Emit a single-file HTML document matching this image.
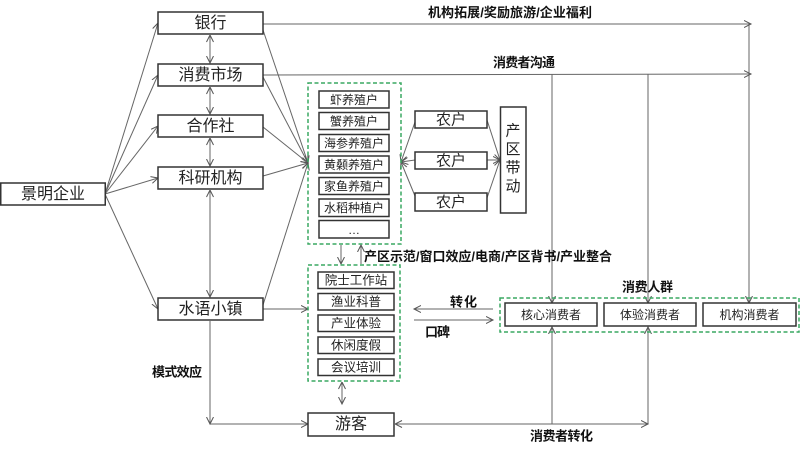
<!DOCTYPE html>
<html><head><meta charset="utf-8">
<style>
html,body{margin:0;padding:0;background:#fff;}
svg{display:block;}
text{font-family:"Liberation Sans","Noto Sans CJK SC",sans-serif;fill:#222;}
.b{font-weight:bold;font-size:13px;fill:#111;}
</style></head>
<body>
<svg width="800" height="450" viewBox="0 0 800 450" xmlns="http://www.w3.org/2000/svg">
<defs>
<marker id="a" markerUnits="userSpaceOnUse" markerWidth="10" markerHeight="10" refX="7" refY="4" orient="auto">
<path d="M0,0.5 L7,4 L0,7.5" fill="none" stroke="#555" stroke-width="1"/>
</marker>
<marker id="s" markerUnits="userSpaceOnUse" markerWidth="10" markerHeight="10" refX="0" refY="4" orient="auto">
<path d="M7,0.5 L0,4 L7,7.5" fill="none" stroke="#555" stroke-width="1"/>
</marker>
</defs>
<g stroke="#666" stroke-width="1" fill="none">
<!-- from 景明企业 -->
<line x1="105" y1="194" x2="158" y2="23" marker-end="url(#a)"/>
<line x1="105" y1="194" x2="158" y2="75" marker-end="url(#a)"/>
<line x1="105" y1="194" x2="158" y2="126" marker-end="url(#a)"/>
<line x1="105" y1="194" x2="158" y2="178" marker-end="url(#a)"/>
<line x1="105" y1="194" x2="158" y2="309" marker-end="url(#a)"/>
<!-- vertical double arrows -->
<line x1="210" y1="35" x2="210" y2="63" marker-start="url(#s)" marker-end="url(#a)"/>
<line x1="210" y1="87" x2="210" y2="114" marker-start="url(#s)" marker-end="url(#a)"/>
<line x1="210" y1="138" x2="210" y2="166" marker-start="url(#s)" marker-end="url(#a)"/>
<line x1="210" y1="190" x2="210" y2="297" marker-start="url(#s)" marker-end="url(#a)"/>
<!-- converging -->
<line x1="263" y1="30" x2="308" y2="163" marker-end="url(#a)"/>
<line x1="263" y1="77" x2="308" y2="163" marker-end="url(#a)"/>
<line x1="263" y1="127" x2="308" y2="163" marker-end="url(#a)"/>
<line x1="263" y1="176" x2="308" y2="163" marker-end="url(#a)"/>
<line x1="263" y1="305" x2="308" y2="163" marker-end="url(#a)"/>
<line x1="263" y1="309" x2="308" y2="309" marker-end="url(#a)"/>
<!-- top long lines -->
<line x1="263" y1="24" x2="751" y2="24" marker-end="url(#a)"/>
<line x1="263" y1="75" x2="751" y2="74" marker-end="url(#a)"/>
<line x1="749" y1="24" x2="749" y2="303" marker-end="url(#a)"/>
<line x1="552" y1="74" x2="552" y2="303" marker-end="url(#a)"/>
<line x1="648" y1="74" x2="648" y2="303" marker-end="url(#a)"/>
<!-- between green boxes -->
<line x1="341" y1="245" x2="341" y2="264" marker-end="url(#a)"/>
<line x1="361" y1="264" x2="361" y2="245" marker-end="url(#a)"/>
<line x1="342" y1="382" x2="342" y2="404" marker-start="url(#s)" marker-end="url(#a)"/>
<!-- 水语小镇 down -->
<line x1="210" y1="321" x2="210" y2="424" marker-end="url(#a)"/>
<line x1="210" y1="424" x2="308" y2="424" marker-end="url(#a)"/>
<!-- 游客 to consumers -->
<line x1="395" y1="424" x2="648" y2="424" marker-start="url(#s)" marker-end="url(#a)"/>
<line x1="552" y1="424" x2="552" y2="327" marker-end="url(#a)"/>
<line x1="648" y1="424" x2="648" y2="327" marker-end="url(#a)"/>
<!-- 转化 / 口碑 -->
<line x1="493" y1="309" x2="414" y2="309" marker-end="url(#a)"/>
<line x1="414" y1="320" x2="493" y2="320" marker-end="url(#a)"/>
<!-- 农户 -->
<line x1="415" y1="122" x2="401" y2="162" marker-end="url(#a)"/>
<line x1="415" y1="160" x2="401" y2="162" marker-end="url(#a)"/>
<line x1="415" y1="196" x2="401" y2="162" marker-end="url(#a)"/>
<line x1="487" y1="120" x2="500" y2="160" marker-end="url(#a)"/>
<line x1="487" y1="160" x2="500" y2="160" marker-end="url(#a)"/>
<line x1="487" y1="198" x2="500" y2="160" marker-end="url(#a)"/>
</g>

<!-- green dashed groups -->
<g fill="none" stroke="#3aa862" stroke-width="1.5" stroke-dasharray="4 2.5">
<rect x="308" y="83" width="93" height="161"/>
<rect x="308" y="265" width="92" height="116"/>
<rect x="500" y="298" width="299" height="34"/>
</g>

<!-- main boxes -->
<g fill="#fff" stroke="#333" stroke-width="1.5">
<rect x="158" y="12" width="105" height="22"/>
<rect x="158" y="64" width="105" height="22"/>
<rect x="158" y="115" width="105" height="22"/>
<rect x="158" y="167" width="105" height="22"/>
<rect x="158" y="298" width="105" height="22"/>
<rect x="0.75" y="183" width="104.5" height="22"/>
<rect x="308" y="413" width="86" height="23"/>
<rect x="415" y="111" width="72" height="17"/>
<rect x="415" y="152" width="72" height="17"/>
<rect x="415" y="193" width="72" height="18"/>
<rect x="500.5" y="107" width="25.5" height="106"/>
<rect x="505" y="303" width="92" height="23"/>
<rect x="604" y="303" width="92" height="23"/>
<rect x="703" y="303" width="93" height="23"/>
<rect x="319" y="91" width="70" height="17"/>
<rect x="319" y="112.5" width="70" height="17"/>
<rect x="319" y="134.5" width="70" height="17"/>
<rect x="319" y="156" width="70" height="17"/>
<rect x="319" y="177.5" width="70" height="17"/>
<rect x="319" y="199" width="70" height="17.5"/>
<rect x="319" y="220.5" width="70" height="17.5"/>
<rect x="318" y="272" width="76" height="16.5"/>
<rect x="318" y="293.5" width="76" height="16.5"/>
<rect x="318" y="315" width="76" height="16.5"/>
<rect x="318" y="337" width="76" height="16.5"/>
<rect x="318" y="359" width="76" height="16.5"/>
</g>

<g text-anchor="middle" dominant-baseline="central">
<g font-size="16">
<text x="210.5" y="23.5">银行</text>
<text x="210.5" y="75.5">消费市场</text>
<text x="210.5" y="126.5">合作社</text>
<text x="210.5" y="178.5">科研机构</text>
<text x="210.5" y="309.5">水语小镇</text>
<text x="53" y="194.5">景明企业</text>
<text x="351" y="424.5">游客</text>
</g>
<g font-size="15">
<text x="451" y="120">农户</text>
<text x="451" y="161">农户</text>
<text x="451" y="202.5">农户</text>
<text x="513" y="131">产</text>
<text x="513" y="149.5">区</text>
<text x="513" y="168">带</text>
<text x="513" y="186.5">动</text>
</g>
<g font-size="12">
<text x="354" y="100">虾养殖户</text>
<text x="354" y="121.5">蟹养殖户</text>
<text x="354" y="143.5">海参养殖户</text>
<text x="354" y="165">黄颡养殖户</text>
<text x="354" y="186.5">家鱼养殖户</text>
<text x="354" y="208">水稻种植户</text>
<text x="354" y="230">…</text>
<text x="551" y="315">核心消费者</text>
<text x="650" y="315">体验消费者</text>
<text x="749.5" y="315">机构消费者</text>
</g>
<g font-size="12.5">
<text x="356" y="280.5">院士工作站</text>
<text x="356" y="302">渔业科普</text>
<text x="356" y="323.5">产业体验</text>
<text x="356" y="345.5">休闲度假</text>
<text x="356" y="367.5">会议培训</text>
</g>
</g>

<g dominant-baseline="central">
<text class="b" x="428" y="12.5" textLength="164">机构拓展/奖励旅游/企业福利</text>
<text class="b" x="493" y="62.5" textLength="62">消费者沟通</text>
<text class="b" x="364" y="256.5" textLength="248">产区示范/窗口效应/电商/产区背书/产业整合</text>
<text class="b" x="622" y="287" textLength="51">消费人群</text>
<text class="b" x="450" y="302" textLength="27">转化</text>
<text class="b" x="425" y="332" textLength="25">口碑</text>
<text class="b" x="152" y="372" textLength="50">模式效应</text>
<text class="b" x="530" y="436" textLength="63">消费者转化</text>
</g>
</svg>
</body></html>
